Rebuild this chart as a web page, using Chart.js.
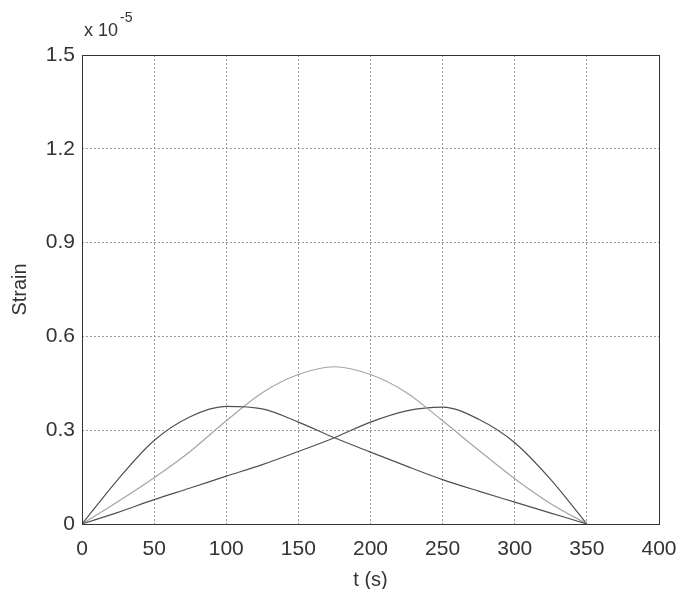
<!DOCTYPE html>
<html>
<head>
<meta charset="utf-8">
<script src="https://cdn.jsdelivr.net/npm/chart.js@4.4.1/dist/chart.umd.min.js"></script>
<style>
  html, body { margin: 0; padding: 0; background: #fff; }
  #wrap { width: 680px; height: 589px; position: relative; }
</style>
</head>
<body>
<div id="wrap"><canvas id="grafico"></canvas></div>
<script>
// tempo (s) e deformações (x 1e-5) nos três pontos
const tempo = [0, 25, 50, 75, 100, 125, 150, 175, 200, 225, 250, 275, 300, 325, 350];
const strainA = [0, 0.143, 0.267, 0.343, 0.376, 0.368, 0.326, 0.276, 0.230, 0.185, 0.142, 0.105, 0.070, 0.035, 0];
const strainB = [0, 0.072, 0.148, 0.232, 0.330, 0.420, 0.478, 0.503, 0.478, 0.420, 0.330, 0.236, 0.145, 0.065, 0];
const strainC = [0, 0.037, 0.078, 0.115, 0.153, 0.190, 0.232, 0.276, 0.326, 0.362, 0.374, 0.335, 0.260, 0.142, 0];
const xTicks = [0, 50, 100, 150, 200, 250, 300, 350, 400];
const yTicks = [0, 0.3, 0.6, 0.9, 1.2, 1.5];

const pontos = arr => arr.map((v, i) => ({ x: tempo[i], y: v }));

// moldura fechada + "x 10^-5" no canto
const moldura = {
    id: 'moldura',
    afterDraw(chart) {
        const { ctx, chartArea: a } = chart;
        ctx.save();
        ctx.strokeStyle = '#333';
        ctx.lineWidth = 1;
        ctx.strokeRect(a.left + 0.5, a.top + 0.5, a.right - a.left, a.bottom - a.top);
        ctx.fillStyle = '#333';
        ctx.font = '18px "Liberation Sans", Arial, sans-serif';
        ctx.textBaseline = 'alphabetic';
        ctx.fillText('x 10', a.left + 2, a.top - 19);
        ctx.font = '14px "Liberation Sans", Arial, sans-serif';
        ctx.fillText('-5', a.left + 38, a.top - 33);
        ctx.restore();
    }
};

const serie = (data, cor) => ({
    data: pontos(data),
    borderColor: cor,
    borderWidth: 1.2,
    pointRadius: 0,
    fill: false,
    cubicInterpolationMode: 'monotone'
});

const fonte = { family: '"Liberation Sans", Arial, sans-serif', size: 21 };
const fonteTitulo = { family: '"Liberation Sans", Arial, sans-serif', size: 20, lineHeight: 1 };

new Chart(document.getElementById('grafico'), {
    type: 'line',
    data: {
        datasets: [
            serie(strainA, '#505050'),
            serie(strainB, '#a4a4a4'),
            serie(strainC, '#505050')
        ]
    },
    options: {
        responsive: true,
        maintainAspectRatio: false,
        animation: false,
        layout: { padding: { left: 0, top: 55, right: 21, bottom: 0 } },
        plugins: { legend: { display: false }, tooltip: { enabled: false } },
        scales: {
            x: {
                type: 'linear',
                min: 0, max: 400,
                afterBuildTicks: s => { s.ticks = xTicks.map(v => ({ value: v })); },
                afterFit: s => { s.height = 65; s.paddingLeft = 0; s.paddingRight = 0; },
                grid: { color: '#9a9a9a', lineWidth: 1, drawTicks: false },
                border: { display: false, dash: [2, 2] },
                ticks: { color: '#333', font: fonte, padding: 13, maxRotation: 0 },
                title: { display: true, text: 't (s)', color: '#333', font: fonteTitulo, padding: { top: 0, bottom: -1 } }
            },
            y: {
                min: 0, max: 1.5,
                afterBuildTicks: s => { s.ticks = yTicks.map(v => ({ value: v })); },
                afterFit: s => { s.width = 82; },
                grid: { color: '#9a9a9a', lineWidth: 1, drawTicks: false },
                border: { display: false, dash: [2, 2] },
                ticks: { color: '#333', font: fonte, padding: 7, callback: v => (v === 0 ? '0' : v.toFixed(1)) },
                title: { display: true, text: 'Strain', color: '#333', font: fonteTitulo, padding: { top: 10, bottom: 0 } }
            }
        }
    },
    plugins: [moldura]
});
</script>
</body>
</html>
